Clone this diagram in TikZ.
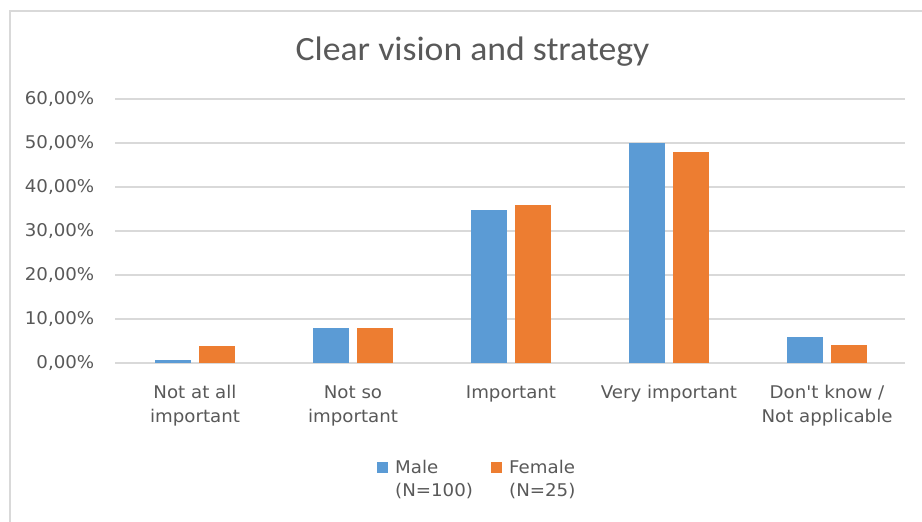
\documentclass[tikz,border=0pt]{standalone}
\usepackage{fontspec}
\newfontfamily\labfont[FakeStretch=1.04]{DejaVu Sans}
\newfontfamily\titlefont[FakeStretch=1.05]{Carlito}
\definecolor{txtgray}{HTML}{595959}
\definecolor{gridgray}{HTML}{D9D9D9}
\definecolor{framegray}{HTML}{D9D9D9}
\definecolor{maleblue}{HTML}{5B9BD5}
\definecolor{femaleorange}{HTML}{ED7D31}
\tikzset{
  lab/.style={font=\labfont\fontsize{17.5}{21}\selectfont, text=txtgray, inner sep=0pt},
  ylab/.style={lab, anchor=east},
  catlab/.style={lab, anchor=base},
  gridline/.style={draw=gridgray, line width=1.3pt},
  malebar/.style={fill=maleblue, draw=none},
  femalebar/.style={fill=femaleorange, draw=none},
  chartframe/.style={draw=framegray, line width=2pt},
}
\begin{document}
\begin{tikzpicture}[x=1pt, y=-1pt]
\useasboundingbox (0,0) rectangle (922,522);
\clip (0,0) rectangle (922,522);
\fill[white] (0,0) rectangle (922,522);
\draw[chartframe] (9.5,11) rectangle (940,540);
% title
\node[font=\titlefont\fontsize{34}{40}\selectfont, text=txtgray, anchor=base, inner sep=0pt] (title) at (472.5,60) {Clear vision and strategy};
% gridlines and y labels
\foreach \v/\t [count=\i] in {0/{0,00\%},10/{10,00\%},20/{20,00\%},30/{30,00\%},40/{40,00\%},50/{50,00\%},60/{60,00\%}}{
  \coordinate (gl\i) at (115,363-4.4*\v);
  \coordinate (gr\i) at (905,363-4.4*\v);
  \draw[gridline] (gl\i) -- (gr\i);
  \node[ylab] (yl\i) at (94.5,363-4.4*\v) {\t};
}
% bars
\foreach \cx/\m/\f [count=\i] in {194/0.7/3.8, 352/8/8, 510/34.8/36, 668/50/48, 826/5.8/4}{
  \path[malebar] (\cx-39.5,363) rectangle (\cx-3.5,363-4.4*\m);
  \path[femalebar] (\cx+4.5,363) rectangle (\cx+40.5,363-4.4*\f);
}
% category labels
\node[catlab] (c1a) at (195,398.5) {Not at all};
\node[catlab] (c1b) at (195,422) {important};
\node[catlab] (c2a) at (353,398.5) {Not so};
\node[catlab] (c2b) at (353,422) {important};
\node[catlab] (c3a) at (511,398.5) {Important};
\node[catlab] (c4a) at (669,398.5) {Very important};
\node[catlab] (c5a) at (827,398.5) {Don't know /};
\node[catlab] (c5b) at (827,422) {Not applicable};
% legend
\path[malebar] (377,462) rectangle (388,473);
\node[lab, anchor=base west] (lm1) at (395,473) {Male};
\node[lab, anchor=base west] (lm2) at (395,496) {(N=100)};
\path[femalebar] (491,462) rectangle (502,473);
\node[lab, anchor=base west] (lf1) at (509,473) {Female};
\node[lab, anchor=base west] (lf2) at (509,496) {(N=25)};
\end{tikzpicture}
\end{document}
